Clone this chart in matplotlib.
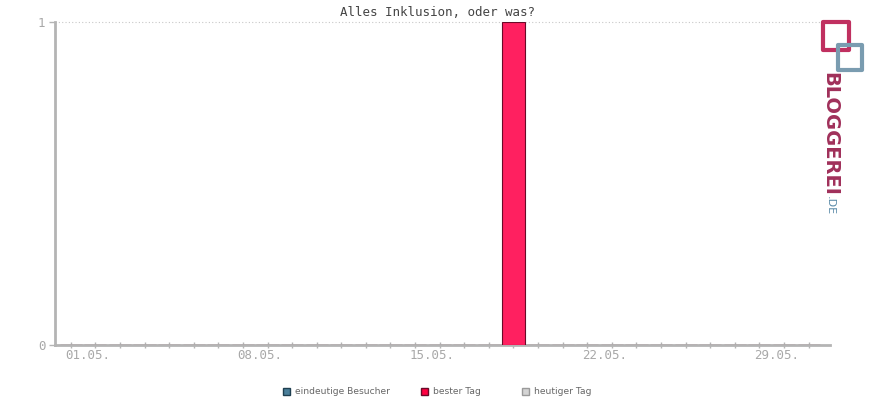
import matplotlib.pyplot as plt
from matplotlib.patches import Rectangle

# daily values for May
days = list(range(1, 32))
besucher = [0] * 31
bester_tag = [0] * 31
bester_tag[18] = 1  # 19.05.
tick_labels = ["01.05.", "08.05.", "15.05.", "22.05.", "29.05."]
tick_days = [1, 8, 15, 22, 29]
legend_labels = ["eindeutige Besucher", "bester Tag", "heutiger Tag"]

W, H = 870, 400
fig = plt.figure(figsize=(8.7, 4.0), dpi=100)
ax = fig.add_axes([55 / W, 55 / H, 775 / W, 323 / H])

gray = "#b4b4b4"
ax.bar(days, bester_tag, width=0.9, color="#ff2060", edgecolor="#6a0a28", linewidth=0.8, zorder=3)
ax.bar(days, besucher, width=0.9, color="#4a7f9a", zorder=3)

ax.set_xlim(0.36, 31.87)
ax.set_ylim(0, 1)
ax.axhline(1, color="#c8c8c8", linestyle=(0, (1, 2)), linewidth=0.8, zorder=1, clip_on=False)

for s in ["top", "right"]:
    ax.spines[s].set_visible(False)
for s in ["left", "bottom"]:
    ax.spines[s].set_color(gray)
    ax.spines[s].set_linewidth(2)

ax.set_xticks(days)
ax.set_xticklabels([])
ax.tick_params(axis="x", direction="inout", length=5, width=1, color=gray)
for d, lab in zip(tick_days, tick_labels):
    ax.text(d - 0.22, -0.032, lab, ha="left", va="center", fontsize=9,
            family="DejaVu Sans Mono", color="#a8a8a8")

ax.set_yticks([0, 1])
ax.set_yticklabels(["0", "1"], family="DejaVu Sans Mono", fontsize=9, color="#a8a8a8")
ax.tick_params(axis="y", direction="out", length=4, width=1, color=gray, pad=3)

fig.text(438 / W, 1 - 12 / H, "Alles Inklusion, oder was?", ha="center", va="center",
         fontsize=9, family="DejaVu Sans Mono", color="#444444")

# legend
leg_x = [286, 424, 525]
leg_fc = ["#4a7f9a", "#ff0040", "#d4d4d4"]
leg_ec = ["#1f3f50", "#6a0a28", "#9a9a9a"]
for x, lab, fc, ec in zip(leg_x, legend_labels, leg_fc, leg_ec):
    fig.patches.append(Rectangle(((x - 3) / W, 1 - 394.5 / H), 7 / W, 7 / H, transform=fig.transFigure,
                                 facecolor=fc, edgecolor=ec, linewidth=1))
    fig.text((x + 9) / W, 1 - 391.5 / H, lab, ha="left", va="center", fontsize=6.6,
             family="DejaVu Sans", color="#666666")

# logo
fig.text(830 / W, 1 - 72 / H, "BLOGGEREI", rotation=-90, ha="center", va="top",
         fontsize=14, fontweight="bold", family="DejaVu Sans", color="#a0305a")
fig.text(830 / W, 1 - 196 / H, ".DE", rotation=-90, ha="center", va="top",
         fontsize=8, family="DejaVu Sans", color="#5a8aa8")
fig.patches.append(Rectangle((823 / W, 1 - 50 / H), 26 / W, 28 / H, transform=fig.transFigure,
                             facecolor="none", edgecolor="#c03060", linewidth=3, joinstyle="round"))
fig.patches.append(Rectangle((838 / W, 1 - 70 / H), 24 / W, 25 / H, transform=fig.transFigure,
                             facecolor="none", edgecolor="#7a9cb0", linewidth=3, joinstyle="round"))

fig.savefig("out.png", dpi=100)
